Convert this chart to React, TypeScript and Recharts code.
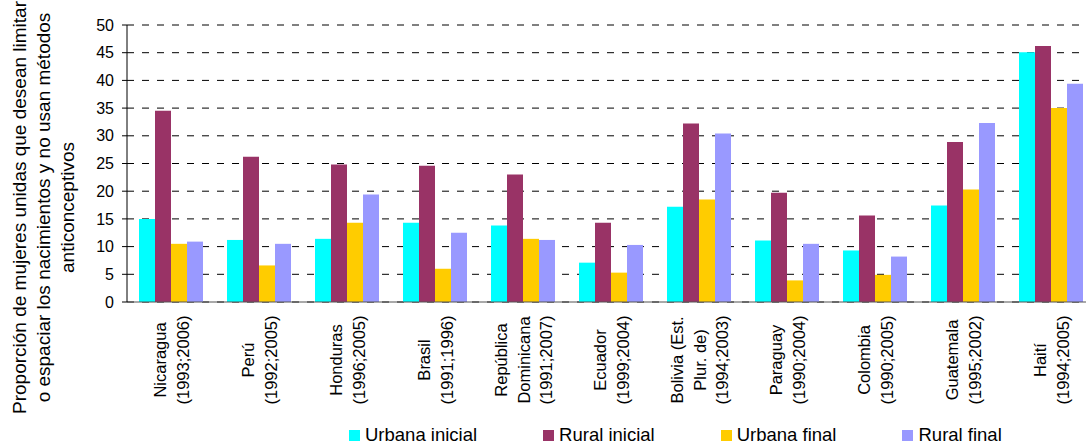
import React from "react";
import { BarChart, Bar, XAxis, YAxis, CartesianGrid, Legend } from "recharts";

// Country labels (line breaks as in the original)
const countries = [
  "Nicaragua\n(1993;2006)",
  "Perú\n(1992;2005)",
  "Honduras\n(1996;2005)",
  "Brasil\n(1991;1996)",
  "República\nDominicana\n(1991;2007)",
  "Ecuador\n(1999;2004)",
  "Bolivia (Est.\nPlur. de)\n(1994;2003)",
  "Paraguay\n(1990;2004)",
  "Colombia\n(1990;2005)",
  "Guatemala\n(1995;2002)",
  "Haití\n(1994;2005)",
];

const urbanaInicial = [15.0, 11.2, 11.4, 14.3, 13.8, 7.1, 17.2, 11.1, 9.3, 17.4, 45.1];
const ruralInicial = [34.5, 26.2, 24.8, 24.6, 23.0, 14.3, 32.2, 19.7, 15.6, 28.9, 46.2];
const urbanaFinal = [10.5, 6.6, 14.3, 6.0, 11.4, 5.3, 18.5, 3.9, 4.9, 20.3, 35.0];
const ruralFinal = [10.9, 10.5, 19.4, 12.5, 11.2, 10.3, 30.4, 10.5, 8.2, 32.3, 39.4];

const seriesKeys = ["urbanaInicial", "ruralInicial", "urbanaFinal", "ruralFinal"];
const seriesNames = ["Urbana inicial", "Rural inicial", "Urbana final", "Rural final"];
const seriesColors = ["#00FFFF", "#993366", "#FFCC00", "#9999FF"];

const yTicks = [0, 5, 10, 15, 20, 25, 30, 35, 40, 45, 50];
const edgeTicks = [0, 1, 2, 3, 4, 5, 6, 7, 8, 9, 10, 11];

const yLabelLines = [
  "Proporción de mujeres unidas que desean limitar",
  "o espaciar los nacimientos y no usan métodos",
  "anticonceptivos",
];

const data = countries.map((name, i) => ({
  name,
  urbanaInicial: urbanaInicial[i],
  ruralInicial: ruralInicial[i],
  urbanaFinal: urbanaFinal[i],
  ruralFinal: ruralFinal[i],
}));

// rotated, multi-line category label
const CountryTick = (props: any) => {
  const { x, y, payload } = props;
  const lines = String(payload.value).split("\n");
  return (
    <g>
      {lines.map((line, i) => (
        <text
          key={i}
          transform={`translate(${x + (i - (lines.length - 1) / 2) * 22.5 + 6.5},${y + 58}) rotate(-90)`}
          textAnchor="middle"
          fontSize={16.5}
          fill="#000"
        >
          {line}
        </text>
      ))}
    </g>
  );
};

const YTitle = (props: any) => {
  const { viewBox } = props;
  const cy = viewBox.y + viewBox.height / 2 + 44;
  return (
    <g>
      {yLabelLines.map((line, i) => (
        <text
          key={i}
          transform={`translate(${26 + i * 24},${cy}) rotate(-90)`}
          textAnchor="middle"
          fontSize={19}
          fill="#000"
        >
          {line}
        </text>
      ))}
    </g>
  );
};

const LegendContent = () => (
  <div style={{ display: "flex", alignItems: "center", fontSize: 18.5, lineHeight: "14px", color: "#000" }}>
    {seriesNames.map((n, i) => (
      <div key={n} style={{ display: "flex", alignItems: "center", marginRight: 66 }}>
        <span style={{ width: 11, height: 11, background: seriesColors[i], marginRight: 5, display: "inline-block" }} />
        <span style={{ whiteSpace: "nowrap" }}>{n}</span>
      </div>
    ))}
  </div>
);

export default function App() {
  return (
    <div
      style={{
        position: "absolute",
        left: 0,
        top: 0,
        width: 1086,
        height: 445,
        overflow: "hidden",
        background: "#fff",
        fontFamily: 'Arial, "Liberation Sans", sans-serif',
      }}
    >
      <BarChart
        width={1101}
        height={445}
        data={data}
        margin={{ top: 25, right: 6, bottom: 0, left: 67 }}
        barCategoryGap={12}
        barGap={0}
      >
        <CartesianGrid vertical={false} stroke="#000" strokeDasharray="7 8" />
        <XAxis
          xAxisId="edges"
          type="number"
          domain={[0, 11]}
          ticks={edgeTicks}
          tick={false}
          tickSize={5}
          tickLine={{ stroke: "#000" }}
          axisLine={false}
          height={0}
          allowDataOverflow
        />
        <XAxis
          dataKey="name"
          interval={0}
          tick={CountryTick}
          tickLine={false}
          tickSize={0}
          tickMargin={0}
          axisLine={{ stroke: "#555" }}
          height={118}
        />
        <YAxis
          domain={[0, 50]}
          ticks={yTicks}
          interval={0}
          width={60}
          tickSize={5}
          tickMargin={8}
          tick={{ fill: "#000", fontSize: 16 }}
          tickLine={{ stroke: "#000" }}
          axisLine={{ stroke: "#000" }}
          label={{ content: YTitle }}
        />
        <Legend
          verticalAlign="bottom"
          height={25}
          wrapperStyle={{ left: 349, top: 428, width: 720, height: 25 }}
          content={LegendContent}
        />
        {seriesKeys.map((k, i) => (
          <Bar key={k} dataKey={k} name={seriesNames[i]} fill={seriesColors[i]} isAnimationActive={false} />
        ))}
      </BarChart>
    </div>
  );
}
